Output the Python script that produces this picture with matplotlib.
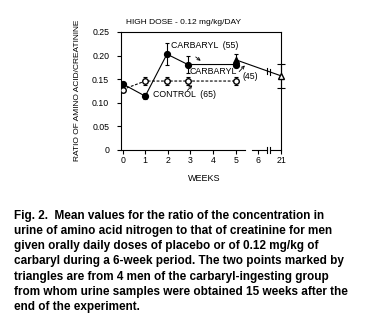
import numpy as np
import matplotlib
matplotlib.use("Agg")
from matplotlib import pyplot as plt

plt.rcParams['font.family'] = ['Liberation Sans', 'DejaVu Sans']

# data
weeks = [0, 1, 1.96, 2.88, 5]
carbaryl = [0.140, 0.114, 0.203, 0.181, 0.181]
carbaryl_err = [0.0, 0.006, 0.023, 0.019, 0.006]
control = [0.128, 0.146, 0.146, 0.146, 0.146]
control_err = [0.0, 0.008, 0.008, 0.008, 0.008]
tri_weeks = [5, 7]          # 7 = position of week 21 on the broken axis
tri_vals = [0.191, 0.157]
tri_err = [0.013, 0.025]
tick_pos = [0, 1, 2, 3, 4, 5, 6, 7]
tick_lab = ['0', '1', '2', '3', '4', '5', '6', '21']
yticks = [0, 0.05, 0.10, 0.15, 0.20, 0.25]
ylabs = ['0', '0.05', '0.10', '0.15', '0.20', '0.25']

caption = ("Fig. 2.  Mean values for the ratio of the concentration in\n"
           "urine of amino acid nitrogen to that of creatinine for men\n"
           "given orally daily doses of placebo or of 0.12 mg/kg of\n"
           "carbaryl during a 6-week period. The two points marked by\n"
           "triangles are from 4 men of the carbaryl-ingesting group\n"
           "from whom urine samples were obtained 15 weeks after the\n"
           "end of the experiment.")

fig = plt.figure(figsize=(3.65, 3.26), dpi=100)
ax = fig.add_axes([0.3315, 0.54, 0.4385, 0.362])

fs = 6.3
lw = 0.8

# control: dashed, open circles
ax.errorbar(weeks, control, yerr=control_err, fmt='o', ls=(0, (2.5, 1.5)), color='black',
            mfc='white', mec='black', ms=4, lw=lw, elinewidth=lw, capsize=1.6, capthick=lw,
            zorder=3)
# carbaryl: solid, filled circles
ax.errorbar(weeks, carbaryl, yerr=carbaryl_err, fmt='o', ls='-', color='black',
            ms=4.2, lw=lw, elinewidth=lw, capsize=1.6, capthick=lw, zorder=4)
# triangles (follow-up)
ax.plot(tri_weeks, tri_vals, '-', color='black', lw=lw, zorder=3)
ax.errorbar(tri_weeks[:1], tri_vals[:1], yerr=tri_err[:1], fmt='^', color='black',
            ms=4.2, elinewidth=lw, capsize=1.6, capthick=lw, zorder=5)
ax.errorbar(tri_weeks[1:], tri_vals[1:], yerr=tri_err[1:], fmt='^', color='black',
            mfc='white', mec='black', ms=4.2, elinewidth=lw, capsize=2.6, capthick=lw,
            zorder=5, clip_on=False)
# break marks on the triangle line
for xb in (6.4, 6.52):
    yb = np.interp(xb, tri_weeks, tri_vals)
    ax.plot([xb, xb], [yb - 0.006, yb + 0.006], color='black', lw=lw, zorder=6)

ax.set_xlim(-0.07, 7)
ax.set_ylim(0, 0.25)
ax.set_xticks(tick_pos)
ax.set_xticklabels(tick_lab)
ax.set_yticks(yticks)
ax.set_yticklabels(ylabs)
ax.tick_params(axis='both', labelsize=fs, length=3, width=lw, direction='out')
ax.tick_params(axis='x', pad=1.5)
ax.tick_params(axis='y', pad=5.5)
for s in ax.spines.values():
    s.set_linewidth(lw)

# broken bottom axis
ax.spines['bottom'].set_visible(False)
xt = ax.get_xaxis_transform()
for x0, x1 in [(-0.07, 5.4), (5.72, 6.38), (6.5, 7.0)]:
    ax.plot([x0, x1], [0, 0], color='black', lw=lw, transform=xt, clip_on=False)
for xb in (6.38, 6.5):
    ax.plot([xb, xb], [-0.025, 0.025], color='black', lw=lw, transform=xt, clip_on=False)

# labels inside
ax.text(2.12, 0.221, 'CARBARYL  (55)', fontsize=fs, va='center', ha='left')
ax.text(2.96, 0.167, 'CARBARYL', fontsize=fs, va='center', ha='left')
ax.text(5.3, 0.155, '(45)', fontsize=fs, va='center', ha='left')
ax.text(1.36, 0.1165, 'CONTROL  (65)', fontsize=fs, va='center', ha='left')
arr = dict(arrowstyle='->', lw=0.6, color='black', shrinkA=0, shrinkB=0,
           mutation_scale=5)
ax.annotate('', xy=(3.45, 0.189), xytext=(3.23, 0.197), arrowprops=arr)
ax.annotate('', xy=(5.4, 0.179), xytext=(5.15, 0.166), arrowprops=arr)
ax.annotate('', xy=(3.08, 0.137), xytext=(2.86, 0.126), arrowprops=arr)

fig.text(0.345, 0.93, 'HIGH DOSE - 0.12 mg/kg/DAY', fontsize=6, va='center', ha='left')
fig.text(0.211, 0.724, 'RATIO OF AMINO ACID/CREATININE', fontsize=6, rotation=90,
         va='center', ha='center')
fig.text(0.559, 0.453, 'WEEKS', fontsize=6.5, va='center', ha='center')

fig.text(0.038, 0.355, caption, fontsize=8.5, fontweight='bold', va='top', ha='left',
         linespacing=1.34)

fig.savefig('out.png', dpi=100)
